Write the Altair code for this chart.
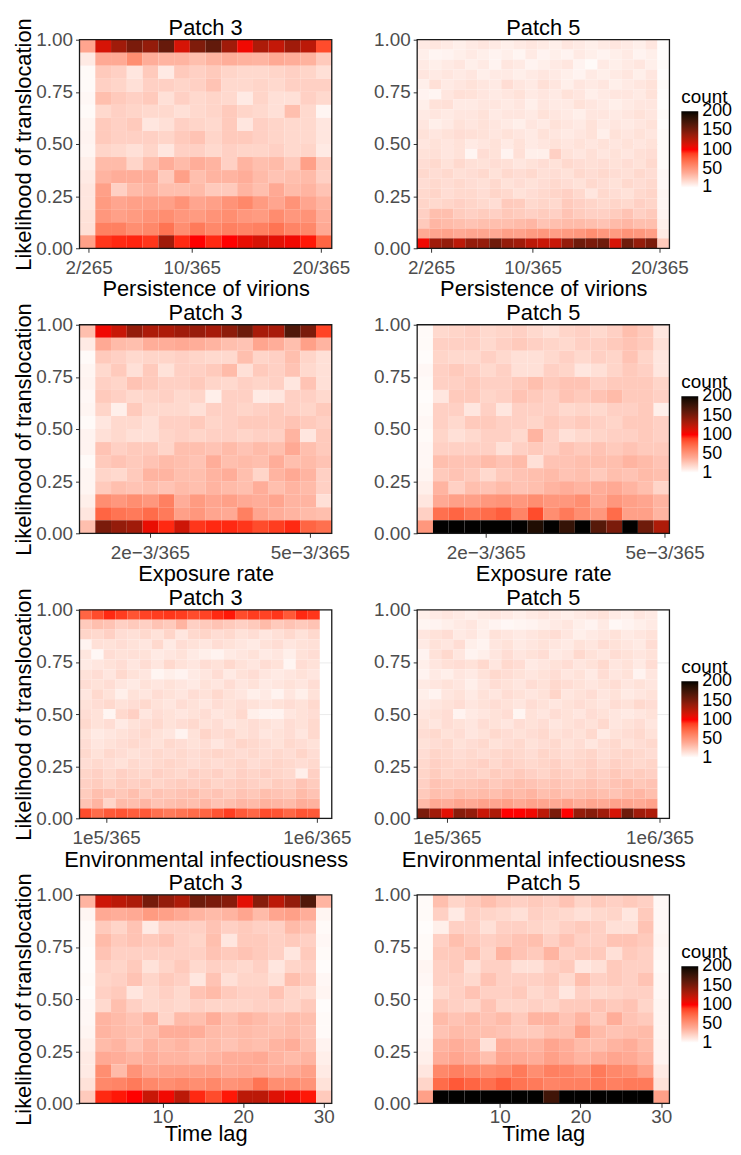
import altair as alt
import pandas as pd

# ---------------- shared scale/axis content ----------------
Y_TICKS = [0, 0.25, 0.5, 0.75, 1.0]
LEGEND_VALUES = [1, 50, 100, 150, 200]
# white -> salmon -> red -> black (stops just outside 1..200 keep end labels centred)
COLOR_DOMAIN = [0.5, 40, 100, 200.5]
COLOR_RANGE = ["#FFFFFF", "#FFA994", "#FF0000", "#000000"]

PERS_TICKS = [2, 10, 20]
PERS_LABELS = ["2/265", "10/365", "20/365"]
EXPO_TICKS = [2, 5]
EXPO_LABELS = ["2e\u22123/365", "5e\u22123/365"]
ENV_TICKS = [1, 10]
ENV_LABELS = ["1e5/365", "1e6/365"]
LAG_TICKS = [10, 20, 30]
LAG_LABELS = ["10", "20", "30"]

# x extents of each panel (in axis units)
PERS3_DOMAIN = [1.3, 20.85]
PERS5_DOMAIN = [0.9, 20.8]
EXPO3_DOMAIN = [0.68, 5.41]
EXPO5_DOMAIN = [0.85, 5.08]
ENV3_DOMAIN = [-0.14, 10.64]
ENV5_DOMAIN = [-0.26, 10.42]
LAG3_DOMAIN = [-0.3, 31.0]
LAG5_DOMAIN = [-0.2, 31.0]

# ---------------- counts (rows listed from top = 1.0 to bottom = 0.0) ----------------
PERS3 = [
    [42, 115, 135, 150, 140, 158, 115, 148, 160, 135, 105, 130, 122, 135, 125, 85],
    [10, 40, 40, 55, 38, 35, 35, 30, 35, 38, 36, 35, 40, 38, 36, 25],
    [3, 25, 22, 12, 25, 10, 25, 22, 25, 20, 18, 18, 20, 22, 20, 15],
    [3, 22, 20, 15, 22, 22, 20, 22, 28, 18, 18, 20, 18, 22, 22, 22],
    [4, 30, 25, 22, 25, 15, 22, 18, 20, 18, 10, 20, 15, 15, 22, 18],
    [3, 18, 22, 20, 18, 18, 15, 18, 20, 25, 20, 18, 15, 30, 18, 5],
    [5, 25, 22, 25, 12, 15, 22, 20, 18, 25, 12, 22, 20, 18, 18, 12],
    [6, 25, 22, 22, 22, 20, 25, 28, 20, 25, 25, 22, 20, 18, 18, 12],
    [5, 20, 18, 15, 20, 12, 22, 22, 18, 22, 20, 20, 22, 18, 20, 10],
    [8, 32, 32, 20, 30, 38, 32, 38, 35, 22, 35, 30, 32, 25, 45, 25],
    [10, 35, 38, 38, 38, 25, 45, 30, 35, 35, 38, 32, 28, 30, 32, 22],
    [12, 45, 22, 32, 35, 30, 30, 32, 25, 25, 35, 30, 40, 32, 35, 28],
    [12, 48, 42, 45, 45, 45, 52, 42, 45, 52, 58, 48, 42, 52, 42, 35],
    [14, 50, 45, 48, 52, 55, 50, 48, 52, 55, 50, 48, 56, 50, 52, 38],
    [15, 62, 62, 55, 58, 68, 55, 65, 58, 62, 60, 62, 68, 60, 58, 40],
    [45, 92, 95, 96, 92, 135, 95, 100, 95, 100, 108, 115, 110, 105, 98, 75],
]

PERS5 = [
    [10, 12, 10, 8, 10, 12, 10, 8, 10, 12, 10, 8, 12, 10, 8, 10, 12, 10, 8, 12, 2],
    [8, 5, 6, 8, 10, 8, 6, 8, 5, 10, 6, 8, 6, 10, 8, 6, 8, 10, 6, 8, 2],
    [10, 8, 10, 12, 8, 10, 6, 12, 10, 6, 8, 10, 12, 6, 3, 10, 8, 10, 12, 8, 3],
    [12, 10, 12, 10, 12, 8, 10, 10, 8, 10, 12, 10, 8, 6, 10, 8, 10, 12, 8, 12, 2],
    [8, 15, 10, 12, 14, 12, 10, 16, 12, 10, 15, 12, 8, 12, 10, 12, 8, 10, 12, 14, 3],
    [6, 5, 12, 15, 14, 12, 10, 12, 14, 10, 12, 10, 14, 12, 8, 10, 12, 12, 10, 14, 2],
    [8, 14, 15, 10, 10, 12, 12, 10, 12, 8, 12, 10, 10, 14, 12, 10, 8, 10, 12, 12, 2],
    [10, 12, 10, 12, 12, 14, 10, 12, 12, 10, 14, 12, 10, 8, 12, 12, 10, 12, 14, 12, 3],
    [12, 8, 10, 14, 12, 14, 12, 10, 8, 12, 10, 14, 12, 10, 14, 10, 12, 10, 12, 14, 2],
    [14, 12, 14, 16, 15, 14, 12, 14, 12, 10, 14, 12, 10, 12, 14, 8, 14, 12, 14, 12, 3],
    [12, 14, 12, 14, 10, 12, 14, 10, 14, 10, 12, 14, 12, 14, 12, 14, 12, 14, 12, 14, 3],
    [14, 15, 12, 14, 5, 16, 14, 6, 15, 8, 8, 22, 14, 12, 15, 12, 14, 12, 15, 16, 3],
    [16, 18, 14, 18, 15, 14, 16, 15, 12, 14, 16, 14, 18, 16, 15, 16, 14, 16, 14, 18, 3],
    [18, 16, 18, 15, 16, 18, 14, 18, 16, 18, 15, 16, 14, 18, 16, 18, 16, 15, 18, 16, 4],
    [16, 18, 16, 18, 16, 15, 18, 14, 16, 14, 16, 18, 16, 14, 18, 16, 14, 18, 16, 18, 4],
    [18, 20, 16, 18, 18, 16, 20, 18, 14, 16, 18, 20, 22, 18, 12, 18, 16, 14, 18, 20, 5],
    [20, 18, 20, 22, 20, 18, 16, 25, 24, 18, 20, 18, 25, 22, 20, 18, 20, 18, 22, 20, 5],
    [22, 30, 30, 24, 22, 24, 22, 26, 24, 22, 24, 22, 28, 24, 22, 22, 24, 28, 22, 25, 6],
    [25, 34, 32, 30, 28, 30, 30, 30, 32, 34, 28, 30, 32, 32, 30, 28, 32, 34, 30, 30, 8],
    [40, 42, 44, 40, 42, 42, 40, 45, 44, 48, 50, 46, 48, 50, 55, 50, 48, 52, 50, 46, 10],
    [105, 135, 140, 125, 140, 140, 155, 140, 135, 125, 120, 120, 140, 155, 150, 155, 115, 155, 140, 150, 25],
]

EXPO3 = [
    [30, 105, 120, 140, 130, 130, 135, 138, 133, 142, 155, 132, 132, 168, 150, 88],
    [10, 40, 32, 30, 38, 38, 40, 38, 35, 30, 28, 42, 38, 30, 45, 35],
    [3, 25, 22, 18, 20, 20, 22, 20, 18, 18, 30, 20, 22, 30, 20, 15],
    [5, 18, 25, 15, 25, 14, 22, 22, 25, 32, 15, 25, 22, 28, 18, 15],
    [6, 22, 20, 28, 25, 22, 22, 25, 20, 18, 22, 20, 22, 12, 28, 15],
    [4, 25, 22, 18, 20, 22, 18, 20, 8, 22, 22, 10, 12, 22, 22, 18],
    [5, 20, 8, 25, 18, 18, 18, 15, 22, 22, 20, 22, 25, 22, 20, 25],
    [3, 12, 18, 18, 15, 22, 22, 25, 20, 22, 25, 25, 25, 28, 25, 22],
    [6, 15, 18, 15, 15, 20, 22, 20, 22, 22, 20, 22, 22, 35, 12, 25],
    [6, 28, 22, 25, 25, 20, 30, 30, 28, 32, 28, 32, 30, 40, 30, 25],
    [3, 25, 28, 25, 28, 32, 30, 28, 38, 30, 32, 30, 38, 30, 32, 28],
    [5, 20, 18, 25, 35, 35, 30, 30, 35, 38, 30, 20, 35, 40, 35, 22],
    [5, 25, 30, 28, 30, 28, 32, 30, 35, 32, 30, 38, 30, 35, 32, 22],
    [8, 55, 50, 55, 50, 62, 38, 48, 42, 45, 40, 38, 42, 35, 35, 15],
    [12, 75, 68, 65, 72, 65, 45, 50, 42, 40, 62, 42, 38, 35, 32, 30],
    [30, 150, 140, 135, 108, 95, 118, 92, 95, 95, 92, 85, 90, 95, 75, 70],
]

EXPO5 = [
    [3, 18, 20, 22, 18, 20, 22, 18, 15, 20, 22, 18, 22, 30, 25, 12],
    [3, 22, 22, 22, 18, 22, 25, 22, 20, 18, 22, 22, 25, 28, 25, 15],
    [2, 20, 18, 18, 22, 18, 15, 15, 18, 22, 18, 22, 20, 28, 20, 12],
    [4, 22, 25, 22, 18, 22, 15, 15, 22, 20, 12, 15, 20, 25, 22, 12],
    [3, 22, 22, 25, 22, 22, 25, 30, 25, 28, 28, 22, 25, 25, 25, 20],
    [2, 12, 25, 25, 20, 22, 28, 25, 22, 28, 25, 28, 32, 25, 25, 22],
    [3, 22, 22, 12, 22, 12, 22, 22, 22, 18, 20, 18, 22, 22, 25, 8],
    [4, 22, 18, 25, 25, 22, 22, 20, 25, 22, 25, 22, 20, 25, 25, 22],
    [3, 20, 15, 18, 22, 22, 18, 35, 22, 15, 18, 20, 22, 22, 25, 22],
    [4, 22, 22, 22, 22, 15, 22, 25, 22, 28, 25, 28, 25, 28, 25, 25],
    [4, 30, 28, 28, 32, 28, 32, 15, 28, 28, 30, 30, 30, 35, 32, 28],
    [5, 25, 28, 25, 18, 25, 28, 30, 32, 28, 30, 25, 30, 28, 32, 30],
    [8, 35, 22, 30, 28, 32, 28, 30, 35, 38, 35, 38, 40, 35, 30, 20],
    [12, 40, 45, 45, 50, 52, 50, 55, 50, 50, 55, 40, 50, 45, 42, 35],
    [22, 70, 75, 68, 72, 78, 60, 85, 55, 65, 55, 50, 72, 45, 45, 35],
    [50, 200, 200, 200, 200, 200, 200, 190, 200, 180, 200, 165, 150, 200, 155, 130],
]

ENV3 = [
    [75, 85, 95, 90, 82, 88, 90, 92, 90, 85, 88, 95, 98, 85, 90, 88, 92, 80, 95, 92, 0],
    [25, 30, 28, 22, 25, 22, 28, 25, 35, 22, 25, 28, 25, 22, 25, 32, 25, 28, 25, 28, 0],
    [20, 18, 22, 16, 15, 18, 14, 20, 12, 18, 20, 16, 18, 14, 16, 12, 15, 18, 14, 18, 0],
    [6, 15, 14, 16, 14, 12, 18, 10, 16, 14, 12, 16, 14, 12, 10, 14, 16, 12, 14, 15, 0],
    [12, 4, 16, 14, 15, 14, 10, 12, 14, 10, 8, 6, 10, 12, 14, 10, 12, 8, 14, 16, 0],
    [10, 12, 14, 16, 12, 16, 12, 18, 14, 12, 16, 14, 18, 14, 12, 16, 14, 5, 16, 14, 0],
    [14, 16, 12, 18, 14, 12, 5, 8, 6, 10, 12, 16, 10, 14, 16, 12, 10, 12, 14, 12, 0],
    [16, 14, 16, 12, 10, 14, 12, 14, 12, 10, 14, 12, 16, 12, 14, 10, 12, 14, 12, 16, 0],
    [12, 18, 14, 8, 14, 12, 16, 14, 12, 16, 14, 18, 14, 12, 8, 10, 6, 12, 8, 14, 0],
    [14, 16, 18, 14, 16, 18, 14, 12, 16, 14, 12, 16, 14, 16, 14, 12, 14, 16, 14, 18, 0],
    [16, 14, 5, 18, 22, 12, 16, 14, 12, 14, 16, 12, 14, 18, 8, 6, 6, 12, 14, 16, 0],
    [18, 14, 16, 10, 14, 16, 18, 14, 16, 18, 14, 16, 12, 14, 16, 14, 12, 16, 14, 18, 0],
    [14, 10, 12, 14, 16, 18, 14, 12, 6, 14, 20, 16, 18, 14, 16, 12, 14, 16, 12, 18, 0],
    [16, 12, 14, 16, 18, 16, 14, 18, 16, 14, 16, 12, 16, 20, 18, 16, 14, 18, 16, 14, 0],
    [18, 14, 18, 16, 14, 16, 18, 16, 18, 16, 18, 20, 18, 16, 18, 16, 18, 16, 20, 16, 0],
    [16, 18, 16, 14, 18, 16, 18, 20, 18, 16, 18, 16, 18, 20, 16, 18, 20, 18, 16, 18, 0],
    [20, 22, 18, 22, 20, 18, 22, 20, 18, 22, 20, 22, 18, 22, 20, 22, 20, 18, 8, 22, 0],
    [22, 24, 20, 24, 22, 24, 20, 22, 24, 22, 24, 20, 22, 24, 22, 20, 24, 22, 28, 24, 0],
    [24, 30, 28, 26, 30, 24, 28, 26, 28, 30, 26, 28, 24, 28, 26, 30, 28, 26, 32, 28, 0],
    [28, 35, 20, 32, 30, 34, 28, 30, 32, 30, 34, 28, 30, 34, 32, 36, 34, 32, 38, 36, 0],
    [85, 72, 80, 82, 78, 80, 70, 65, 68, 72, 75, 82, 90, 80, 74, 85, 82, 74, 82, 80, 0],
]

ENV5 = [
    [8, 10, 12, 10, 8, 10, 12, 10, 8, 10, 12, 10, 8, 10, 12, 14, 10, 8, 12, 10, 0],
    [5, 6, 8, 10, 12, 8, 6, 4, 5, 6, 8, 10, 12, 8, 6, 10, 4, 6, 8, 10, 0],
    [12, 14, 16, 10, 12, 8, 14, 12, 10, 12, 14, 16, 12, 8, 10, 12, 14, 10, 12, 14, 0],
    [10, 14, 12, 16, 8, 6, 12, 14, 10, 12, 14, 12, 10, 14, 12, 16, 14, 12, 10, 16, 0],
    [6, 14, 18, 12, 6, 8, 12, 16, 12, 14, 16, 10, 12, 18, 14, 12, 16, 14, 12, 14, 0],
    [8, 12, 15, 16, 14, 18, 12, 18, 16, 10, 12, 14, 16, 12, 14, 18, 12, 14, 10, 16, 0],
    [6, 10, 8, 12, 10, 14, 18, 16, 14, 12, 14, 16, 12, 14, 10, 16, 12, 14, 6, 12, 0],
    [10, 12, 14, 12, 8, 12, 16, 14, 12, 16, 14, 18, 16, 14, 12, 14, 16, 12, 14, 12, 0],
    [8, 6, 12, 14, 10, 14, 12, 16, 14, 12, 14, 20, 12, 14, 16, 12, 14, 10, 12, 14, 0],
    [10, 12, 14, 16, 12, 14, 16, 14, 12, 16, 14, 12, 14, 16, 14, 12, 16, 14, 18, 16, 0],
    [12, 14, 16, 6, 10, 12, 14, 16, 5, 14, 12, 16, 14, 12, 16, 14, 12, 10, 12, 14, 0],
    [14, 12, 16, 14, 12, 16, 14, 12, 16, 14, 16, 12, 14, 16, 14, 18, 12, 14, 16, 12, 0],
    [16, 18, 14, 16, 12, 14, 18, 16, 14, 16, 18, 14, 16, 14, 18, 10, 14, 16, 18, 14, 0],
    [14, 16, 18, 14, 16, 18, 14, 16, 18, 14, 16, 18, 14, 16, 12, 16, 18, 14, 16, 18, 0],
    [16, 20, 18, 16, 18, 16, 18, 20, 18, 16, 20, 18, 16, 18, 20, 16, 18, 20, 18, 16, 0],
    [18, 22, 20, 18, 20, 22, 18, 22, 20, 18, 20, 22, 18, 20, 22, 18, 22, 20, 18, 20, 0],
    [20, 24, 20, 22, 22, 20, 24, 22, 25, 22, 20, 24, 22, 20, 24, 22, 26, 22, 24, 22, 0],
    [22, 28, 26, 25, 26, 28, 25, 28, 30, 28, 26, 28, 25, 26, 28, 25, 28, 30, 26, 28, 0],
    [25, 30, 28, 32, 30, 32, 30, 34, 32, 35, 30, 32, 28, 30, 32, 30, 28, 32, 34, 30, 0],
    [32, 40, 38, 42, 40, 44, 42, 45, 40, 44, 42, 40, 44, 38, 42, 40, 44, 42, 40, 44, 0],
    [150, 135, 110, 145, 140, 120, 130, 100, 100, 105, 125, 150, 100, 140, 145, 135, 115, 155, 135, 130, 0],
]

LAG3 = [
    [35, 118, 125, 130, 152, 140, 130, 155, 150, 145, 110, 145, 125, 140, 168, 35],
    [5, 40, 38, 40, 48, 45, 40, 35, 32, 35, 42, 32, 42, 45, 38, 5],
    [3, 25, 20, 28, 10, 22, 22, 22, 28, 22, 25, 22, 22, 32, 28, 3],
    [3, 32, 25, 28, 25, 28, 22, 20, 30, 12, 25, 25, 22, 25, 22, 4],
    [2, 28, 22, 22, 22, 22, 22, 22, 28, 25, 28, 25, 22, 12, 25, 3],
    [2, 22, 20, 25, 14, 20, 25, 18, 22, 20, 18, 22, 12, 20, 22, 2],
    [3, 20, 22, 28, 20, 25, 22, 12, 28, 15, 20, 20, 15, 30, 25, 4],
    [2, 22, 25, 12, 18, 22, 18, 28, 32, 25, 22, 22, 28, 20, 18, 5],
    [4, 18, 30, 22, 18, 20, 18, 22, 20, 20, 20, 22, 22, 20, 25, 2],
    [4, 35, 32, 28, 35, 20, 32, 30, 38, 30, 35, 32, 28, 32, 30, 3],
    [5, 35, 32, 30, 30, 38, 38, 38, 32, 30, 32, 30, 30, 32, 28, 3],
    [8, 32, 35, 28, 35, 32, 35, 30, 32, 28, 32, 30, 35, 38, 30, 6],
    [10, 40, 38, 35, 38, 35, 35, 32, 35, 38, 38, 40, 35, 32, 35, 8],
    [10, 55, 32, 52, 42, 45, 45, 45, 45, 40, 42, 40, 38, 40, 45, 10],
    [14, 58, 60, 65, 58, 55, 58, 55, 58, 52, 55, 68, 55, 55, 52, 14],
    [25, 95, 98, 100, 120, 105, 125, 95, 85, 98, 125, 125, 112, 105, 98, 25],
]

LAG5 = [
    [3, 30, 20, 25, 30, 25, 22, 25, 22, 28, 20, 25, 22, 25, 22, 4],
    [3, 22, 10, 22, 20, 18, 15, 22, 20, 18, 15, 18, 20, 12, 25, 4],
    [2, 8, 22, 22, 15, 22, 22, 20, 18, 22, 25, 22, 15, 15, 28, 4],
    [3, 22, 30, 25, 22, 25, 28, 30, 22, 28, 22, 22, 28, 28, 25, 5],
    [3, 25, 25, 30, 20, 35, 28, 25, 35, 22, 25, 25, 15, 25, 22, 4],
    [5, 22, 25, 15, 22, 22, 15, 15, 22, 25, 12, 15, 25, 22, 22, 3],
    [4, 22, 22, 18, 28, 22, 22, 22, 25, 18, 30, 22, 25, 22, 28, 4],
    [3, 18, 22, 28, 22, 22, 25, 18, 22, 12, 22, 18, 20, 22, 22, 4],
    [3, 25, 22, 20, 28, 20, 20, 22, 20, 25, 25, 28, 25, 28, 20, 5],
    [4, 32, 28, 32, 28, 32, 25, 35, 35, 28, 35, 25, 38, 28, 25, 5],
    [4, 28, 32, 30, 30, 28, 25, 25, 30, 30, 45, 32, 28, 30, 32, 5],
    [6, 35, 38, 35, 15, 38, 35, 35, 42, 38, 32, 30, 35, 38, 32, 6],
    [8, 38, 42, 38, 30, 42, 40, 38, 45, 40, 35, 38, 42, 40, 35, 6],
    [12, 58, 62, 58, 55, 58, 65, 55, 62, 60, 55, 65, 58, 55, 45, 10],
    [20, 72, 80, 75, 70, 78, 68, 65, 60, 62, 62, 66, 62, 65, 65, 14],
    [45, 200, 200, 200, 200, 200, 200, 200, 175, 200, 200, 200, 200, 200, 200, 45],
]

FONT = "Liberation Sans"
PANEL_W = 254
PANEL_H = 210


def grid_frame(grid, xdom):
    n_rows = len(grid)
    recs = []
    for r, row in enumerate(grid):
        n_cols = len(row)
        w = (xdom[1] - xdom[0]) / n_cols
        for c, v in enumerate(row):
            if v <= 0:
                continue
            recs.append({
                "x0": xdom[0] + c * w,
                "x1": xdom[0] + (c + 1) * w,
                "y0": 1 - (r + 1) / n_rows,
                "y1": 1 - r / n_rows,
                "count": v,
            })
    return pd.DataFrame(recs)


def label_expr(ticks, labels):
    expr = "''"
    for t, lab in reversed(list(zip(ticks, labels))):
        expr = f"abs(datum.value - {t}) < 1e-9 ? '{lab}' : ({expr})"
    return expr


def panel(grid, xdom, ticks, labels, title, xtitle, left, last_row):
    df = grid_frame(grid, xdom)
    if left:
        legend = None
    else:
        legend = alt.Legend(
            title="count", orient="none", legendX=266, legendY=49,
            values=LEGEND_VALUES, gradientLength=77, gradientThickness=17,
            direction="vertical", titleFontSize=19, titleFontWeight="normal",
            titleColor="black", titleFont=FONT, labelFont=FONT,
            labelFontSize=18, labelColor="black", titlePadding=4,
            labelOffset=4, gradientStrokeWidth=0, labelOverlap=False,
        )
    x_axis = alt.Axis(values=ticks, labelExpr=label_expr(ticks, labels),
                      title=xtitle, grid=False,
                      labelPadding=0 if last_row else 6,
                      titlePadding=-3 if last_row else 2)
    cells = alt.Chart(df).mark_rect(strokeWidth=0).encode(
        x=alt.X("x0:Q", scale=alt.Scale(domain=xdom, nice=False, zero=False),
                axis=x_axis),
        x2="x1",
        y=alt.Y("y0:Q", scale=alt.Scale(domain=[0, 1], nice=False, zero=False),
                axis=alt.Axis(values=Y_TICKS, format=".2f",
                              title="Likelihood of translocation" if left else None)),
        y2="y1",
        color=alt.Color("count:Q",
                        scale=alt.Scale(domain=COLOR_DOMAIN, range=COLOR_RANGE,
                                        interpolate="lab", clamp=True),
                        legend=legend),
    )
    # panel border drawn above the tiles
    border = alt.Chart(pd.DataFrame({"k": [0]})).mark_rect(
        filled=False, stroke="#1A1A1A", strokeWidth=1.3
    ).encode(
        x=alt.value(0), x2=alt.value(PANEL_W), y=alt.value(0), y2=alt.value(PANEL_H)
    )
    # the left panels' long y title pushes their title further up; pull it back down
    title_dy = 26 if left else 13
    return alt.layer(
        cells, border, title=alt.Title(title, frame="group", dy=title_dy)
    ).properties(width=PANEL_W, height=PANEL_H)


rows_spec = [
    (PERS3, PERS3_DOMAIN, PERS5, PERS5_DOMAIN, PERS_TICKS, PERS_LABELS, "Persistence of virions"),
    (EXPO3, EXPO3_DOMAIN, EXPO5, EXPO5_DOMAIN, EXPO_TICKS, EXPO_LABELS, "Exposure rate"),
    (ENV3, ENV3_DOMAIN, ENV5, ENV5_DOMAIN, ENV_TICKS, ENV_LABELS, "Environmental infectiousness"),
    (LAG3, LAG3_DOMAIN, LAG5, LAG5_DOMAIN, LAG_TICKS, LAG_LABELS, "Time lag"),
]

panels = []
for i, (g3, d3, g5, d5, ticks, labels, xtitle) in enumerate(rows_spec):
    last = i == len(rows_spec) - 1
    panels.append(panel(g3, d3, ticks, labels, "Patch 3", xtitle, True, last))
    panels.append(panel(g5, d5, ticks, labels, "Patch 5", xtitle, False, last))

chart = alt.concat(
    *panels, columns=2, spacing=alt.RowColnumber(row=77, column=86), bounds="flush"
).resolve_scale(
    color="independent"
).resolve_legend(
    color="independent"
).properties(
    padding={"left": 5, "top": 4, "right": 0, "bottom": 0}
).configure_view(
    stroke=None
).configure_axis(
    labelFont=FONT, titleFont=FONT, labelFontSize=19, titleFontSize=22,
    labelColor="#4D4D4D", titleColor="black", titleFontWeight="normal",
    tickColor="#333333", tickSize=4, labelPadding=3, domain=False,
    grid=True, gridColor="#EBEBEB", labelFlush=False, labelOverlap=False,
    labelBound=False,
).configure_axisY(
    titlePadding=0,
).configure_title(
    font=FONT, fontSize=22, fontWeight="normal", color="black", offset=4,
    anchor="middle",
)

chart.save("out.html", embed_options={"renderer": "svg", "actions": False})
